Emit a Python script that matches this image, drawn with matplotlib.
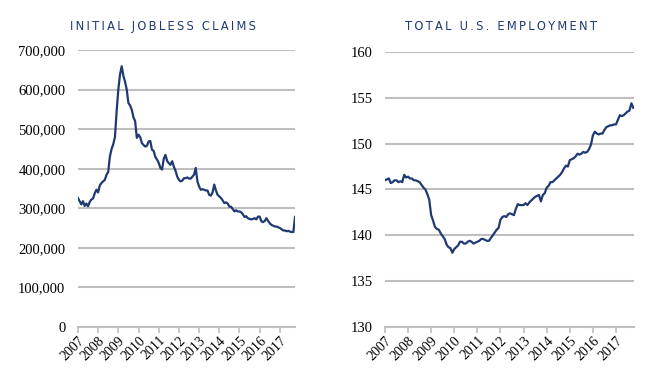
import numpy as np
import matplotlib
matplotlib.use('Agg')
import matplotlib.pyplot as plt
from matplotlib.ticker import FuncFormatter

# monthly readings, Jan 2007 - Oct 2017
claims = [
    326, 318, 310, 318, 306, 312, 305, 316, 322, 325, 338, 347,   # 2007
    340, 358, 364, 368, 372, 385, 392, 431, 450, 462, 480, 545,   # 2008
    600, 638, 659, 635, 620, 600, 566, 560, 549, 530, 520, 478,   # 2009
    486, 480, 465, 460, 456, 458, 469, 470, 448, 445, 430, 423,   # 2010
    415, 402, 398, 425, 435, 420, 414, 410, 419, 405, 395, 380,   # 2011
    372, 368, 370, 376, 376, 378, 375, 375, 380, 385, 402, 368,   # 2012
    355, 347, 348, 347, 345, 345, 334, 332, 340, 360, 345, 334,   # 2013
    330, 326, 320, 313, 315, 312, 304, 304, 298, 292, 295, 292,   # 2014
    292, 290, 285, 278, 280, 275, 273, 272, 273, 275, 272, 279,   # 2015
    279, 267, 265, 268, 275, 268, 262, 258, 256, 254, 254, 252,   # 2016
    250, 247, 244, 244, 242, 243, 241, 240, 240, 278,             # 2017
]
employment = [
    146.0, 146.1, 146.2, 145.7, 145.8, 146.0, 146.0, 145.8, 145.9, 145.8, 146.6, 146.3,  # 2007
    146.4, 146.2, 146.2, 146.0, 146.0, 145.9, 145.8, 145.5, 145.2, 145.0, 144.5, 143.9,  # 2008
    142.2, 141.6, 140.9, 140.7, 140.6, 140.2, 139.9, 139.6, 139.0, 138.7, 138.6, 138.1,  # 2009
    138.5, 138.7, 138.9, 139.3, 139.3, 139.1, 139.1, 139.3, 139.4, 139.3, 139.1, 139.2,  # 2010
    139.3, 139.4, 139.6, 139.6, 139.5, 139.4, 139.4, 139.7, 140.0, 140.3, 140.6, 140.8,  # 2011
    141.7, 142.0, 142.1, 142.0, 142.3, 142.4, 142.3, 142.2, 142.9, 143.4, 143.3, 143.3,  # 2012
    143.3, 143.5, 143.3, 143.6, 143.8, 144.0, 144.2, 144.3, 144.4, 143.7, 144.4, 144.6,  # 2013
    145.2, 145.4, 145.8, 145.8, 146.0, 146.2, 146.4, 146.6, 146.9, 147.3, 147.6, 147.5,  # 2014
    148.2, 148.3, 148.4, 148.6, 148.9, 148.8, 148.9, 149.1, 149.0, 149.1, 149.4, 149.9,  # 2015
    150.9, 151.3, 151.1, 151.0, 151.1, 151.1, 151.5, 151.8, 151.9, 152.0, 152.0, 152.1,  # 2016
    152.1, 152.6, 153.1, 153.0, 153.1, 153.3, 153.5, 153.6, 154.4, 153.9,                # 2017
]
years = list(range(2007, 2018))
titles = ['INITIAL JOBLESS CLAIMS', 'TOTAL U.S. EMPLOYMENT']

t = 2007 + np.arange(len(claims)) / 12.0
navy = '#1f3a73'
grid_c = '#bfbfbf'
serif = 'Liberation Serif'

fig = plt.figure(figsize=(6.66, 3.82), dpi=100)
ax1 = fig.add_axes([0.117, 0.144, 0.326, 0.725])
ax2 = fig.add_axes([0.578, 0.144, 0.374, 0.720])


def style(ax):
    for s in ['top', 'right', 'left']:
        ax.spines[s].set_visible(False)
    ax.spines['bottom'].set_color(grid_c)
    ax.spines['bottom'].set_linewidth(1.5)
    ax.yaxis.grid(True, color=grid_c, linewidth=1.5)
    ax.set_axisbelow(True)
    ax.tick_params(axis='y', length=0, pad=9)
    ax.tick_params(axis='x', length=4, width=1.2, color=grid_c, pad=1)
    ax.set_xticks(years)
    ax.set_xticklabels([str(y) for y in years], rotation=45, ha='right',
                       rotation_mode='anchor', fontsize=10, family=serif)
    for lb in ax.get_yticklabels():
        lb.set_family(serif)
        lb.set_fontsize(10.5)


def spaced(s):
    # widen letters a bit, like the original's extended title face
    return '\u2009'.join(s)


ax1.plot(t, np.array(claims) * 1000, color=navy, linewidth=1.6)
ax1.set_ylim(0, 700000)
ax1.set_yticks(np.arange(0, 700001, 100000))
ax1.yaxis.set_major_formatter(FuncFormatter(lambda v, p: f'{int(v):,}'))
ax1.set_xlim(2007, 2017.75)
style(ax1)

ax2.plot(t[:len(employment)], employment, color=navy, linewidth=1.6)
ax2.set_ylim(130, 160)
ax2.set_yticks(np.arange(130, 161, 5))
ax2.set_xlim(2007, 2017.78)
style(ax2)

fig.text(0.244, 0.93, spaced(titles[0]), color=navy,
         fontsize=8.3, ha='center', va='center', family='DejaVu Sans')
fig.text(0.752, 0.93, spaced(titles[1]), color=navy,
         fontsize=8.3, ha='center', va='center', family='DejaVu Sans')

fig.savefig('out.png', dpi=100)
